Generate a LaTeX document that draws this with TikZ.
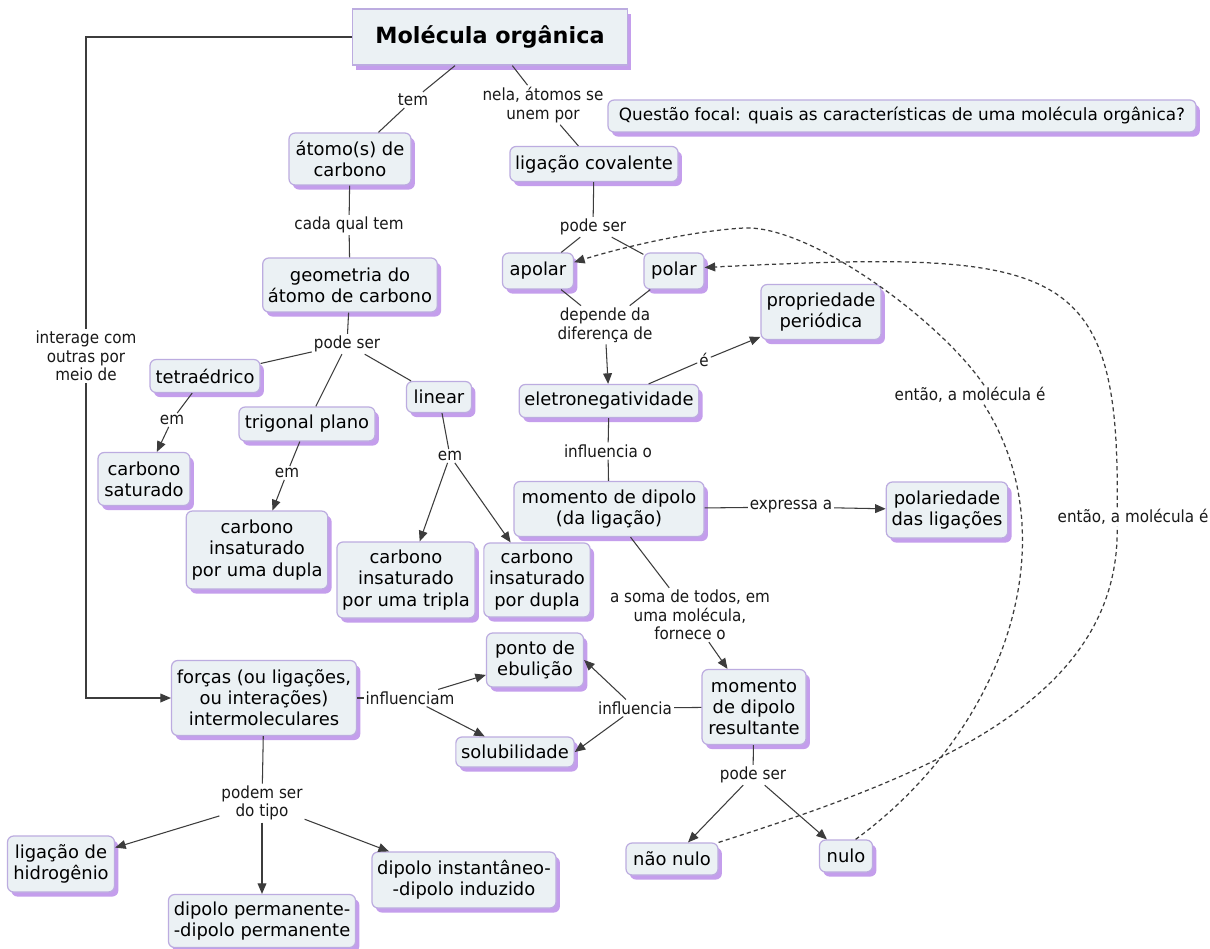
\documentclass[tikz,border=0pt]{standalone}
\usepackage{fontspec}
\setmainfont{DejaVu Sans}
\newfontfamily\lblfont[FakeStretch=0.91]{DejaVu Sans}
\usetikzlibrary{arrows.meta,shadows,calc}
\definecolor{cfill}{RGB}{235,241,244}
\definecolor{cborder}{RGB}{188,172,224}
\definecolor{cshadow}{RGB}{196,158,236}
\definecolor{cline}{RGB}{60,60,60}
\newcommand{\mycfont}{\fontsize{10.2}{12}\selectfont}
\newcommand{\mylfont}{\lblfont\fontsize{9.5}{10.6}\selectfont}
\newcommand{\mytfont}{\fontsize{12.7}{15}\selectfont\bfseries}
\begin{document}
\begin{tikzpicture}[x=0.02cm,y=-0.02cm,
  concept/.style={rectangle,rounded corners=3.5pt,draw=cborder,line width=0.7pt,fill=cfill,align=center,inner xsep=3pt,inner ysep=2pt,font=\mycfont,text=black,drop shadow={shadow xshift=2.2pt,shadow yshift=-2.6pt,fill=cshadow,opacity=1}},
  sz/.style 2 args={minimum width=#1*0.02cm,minimum height=#2*0.02cm},
  lbl/.style={inner sep=1pt,align=center,font=\mylfont,text=black!90},
  link/.style={draw=cline,line width=0.6pt},
  arr/.style={link,-{Triangle[length=6pt,width=5pt]}},
  dlink/.style={draw=cline,line width=0.7pt,dash pattern=on 2.4pt off 1.8pt},
]
\fill[white] (0,0) rectangle (1210,949);
\useasboundingbox (0,0) rectangle (1210,949);

% concepts
\node[concept,rounded corners=0pt,sz={275}{56},font=\mytfont] (title) at (490,37) {Molécula orgânica};
\node[concept,sz={122}{52}] (atomo) at (350,159) {átomo(s) de\\carbono};
\node[concept,sz={165}{35}] (ligcov) at (594,164) {ligação covalente};
\node[concept,sz={588}{32},font=\fontsize{9.6}{11}\selectfont] (questao) at (902,116) {Questão focal: quais as características de uma molécula orgânica?};
\node[concept,sz={172}{54}] (geom) at (350,285) {geometria do\\átomo de carbono};
\node[concept,sz={110}{33}] (tetra) at (205,376) {tetraédrico};
\node[concept,sz={136}{34}] (trig) at (307,424) {trigonal plano};
\node[concept,sz={65}{31}] (linear) at (439,397) {linear};
\node[concept,sz={92}{53}] (csat) at (144,479) {carbono\\saturado};
\node[concept,sz={141}{78}] (cdupla) at (257,550) {carbono\\insaturado\\por uma dupla};
\node[concept,sz={138}{76}] (ctripla) at (406,580) {carbono\\insaturado\\por uma tripla};
\node[concept,sz={103}{74}] (cdupladois) at (537,580) {carbono\\insaturado\\por dupla};
\node[concept,sz={71}{36}] (apolar) at (538,271) {apolar};
\node[concept,sz={60}{36}] (polar) at (674,271) {polar};
\node[concept,sz={179}{33}] (eletro) at (609,401) {eletronegatividade};
\node[concept,sz={120}{55}] (prop) at (821,312) {propriedade\\periódica};
\node[concept,sz={190}{55}] (momlig) at (609,509) {momento de dipolo\\(da ligação)};
\node[concept,sz={121}{56}] (polarid) at (947,510) {polariedade\\das ligações};
\node[concept,sz={104}{75}] (result) at (754,707) {momento\\de dipolo\\resultante};
\node[concept,sz={97}{54}] (ponto) at (535,660) {ponto de\\ebulição};
\node[concept,sz={117}{30}] (solub) at (515,752) {solubilidade};
\node[concept,sz={184}{75}] (forcas) at (264,698) {forças (ou ligações,\\ou interações)\\intermoleculares};
\node[concept,sz={107}{56}] (ligH) at (61,864) {ligação de\\hidrogênio};
\node[concept,sz={183}{53}] (dipperm) at (262,921) {dipolo permanente-\\-dipolo permanente};
\node[concept,sz={181}{56}] (dipinst) at (464,880) {dipolo instantâneo-\\-dipolo induzido};
\node[concept,sz={92}{32}] (naonulo) at (672,859) {não nulo};
\node[concept,sz={53}{32}] (nulo) at (846,856) {nulo};

% linking phrases
\node[lbl] (tem) at (413,100) {tem};
\node[lbl] (nela) at (543,105) {nela, átomos se\\unem por};
\node[lbl] (cadaqual) at (349,225) {cada qual tem};
\node[lbl] (podeserA) at (347,344) {pode ser};
\node[lbl] (emA) at (172,420) {em};
\node[lbl] (emB) at (287,473) {em};
\node[lbl] (emC) at (450,456) {em};
\node[lbl] (interage) at (86,356) {interage com\\outras por\\meio de};
\node[lbl] (podeserB) at (593,227) {pode ser};
\node[lbl] (depende) at (605,325) {depende da\\diferença de};
\node[lbl] (eh) at (704,360) {é};
\node[lbl] (influo) at (608,451) {influencia o};
\node[lbl] (expressa) at (791,507) {expressa a};
\node[lbl] (soma) at (690,615) {a soma de todos, em\\uma molécula,\\fornece o};
\node[lbl] (influ) at (635,708) {influencia};
\node[lbl] (influm) at (410,698) {influenciam};
\node[lbl] (podem) at (262,803) {podem ser\\do tipo};
\node[lbl] (podeserC) at (753,775) {pode ser};
\node[lbl] (entaoA) at (970,395) {então, a molécula é};
\node[lbl] (entaoB) at (1133,517) {então, a molécula é};

% connectors
\draw[link] (title) -- (tem);
\draw[link] (tem) -- (atomo);
\draw[link] (title) -- (nela);
\draw[link] (nela) -- (ligcov);
\draw[link] (atomo) -- (cadaqual);
\draw[link] (cadaqual) -- (geom);
\draw[link] (geom) -- (podeserA);
\draw[link] (podeserA) -- (tetra);
\draw[link] (podeserA) -- (trig);
\draw[link] (podeserA) -- (linear);
\draw[link] (tetra) -- (emA);
\draw[arr] (emA) -- (csat);
\draw[link] (trig) -- (emB);
\draw[arr] (emB) -- (cdupla);
\draw[link] (linear) -- (emC);
\draw[arr] (emC) -- (ctripla);
\draw[arr] (emC) -- (cdupladois);
\draw[link] (title.west) -| (interage.north);
\draw[arr] (interage.south) |- (forcas.west);
\draw[link] (ligcov) -- (podeserB);
\draw[link] (podeserB) -- (apolar);
\draw[link] (podeserB) -- (polar);
\draw[link] (apolar) -- (depende);
\draw[link] (polar) -- (depende);
\draw[arr] (depende) -- (eletro);
\draw[link] (eletro) -- (eh);
\draw[arr] (eh) -- (prop);
\draw[link] (eletro) -- (influo);
\draw[link] (influo) -- (momlig);
\draw[link] (momlig) -- (expressa);
\draw[arr] (expressa) -- (polarid);
\draw[link] (momlig) -- (soma);
\draw[arr] (soma) -- (result);
\draw[link] (result) -- (influ);
\draw[arr] (influ) -- (ponto.east);
\draw[arr] (influ) -- (solub.east);
\draw[link] (forcas) -- (influm);
\draw[arr] (influm) -- (ponto);
\draw[arr] (influm) -- (solub);
\draw[link] (forcas) -- (podem);
\draw[arr] (podem) -- (ligH);
\draw[arr] (podem) -- (dipperm);
\draw[arr] (podem) -- (dipinst);
\draw[link] (result) -- (podeserC);
\draw[arr] (podeserC) -- (naonulo);
\draw[arr] (podeserC) -- (nulo);

% dashed curves
\draw[dlink] (nulo.60) .. controls (1005,730) and (1070,540) .. ([xshift=8pt]entaoA.south);
\draw[dlink,-{Triangle[length=6pt,width=5pt]}] ([xshift=8pt]entaoA.north) .. controls (940,320) and (810,225) .. (744,228) .. controls (690,231) and (620,248) .. ([yshift=5pt]apolar.east);
\draw[dlink] (naonulo.north east) .. controls (930,775) and (1120,700) .. ([xshift=-9pt]entaoB.south);
\draw[dlink,-{Triangle[length=6pt,width=5pt]}] ([xshift=-9pt]entaoB.north) .. controls (1120,260) and (1060,250) .. ([yshift=2pt]polar.east);
\end{tikzpicture}
\end{document}
